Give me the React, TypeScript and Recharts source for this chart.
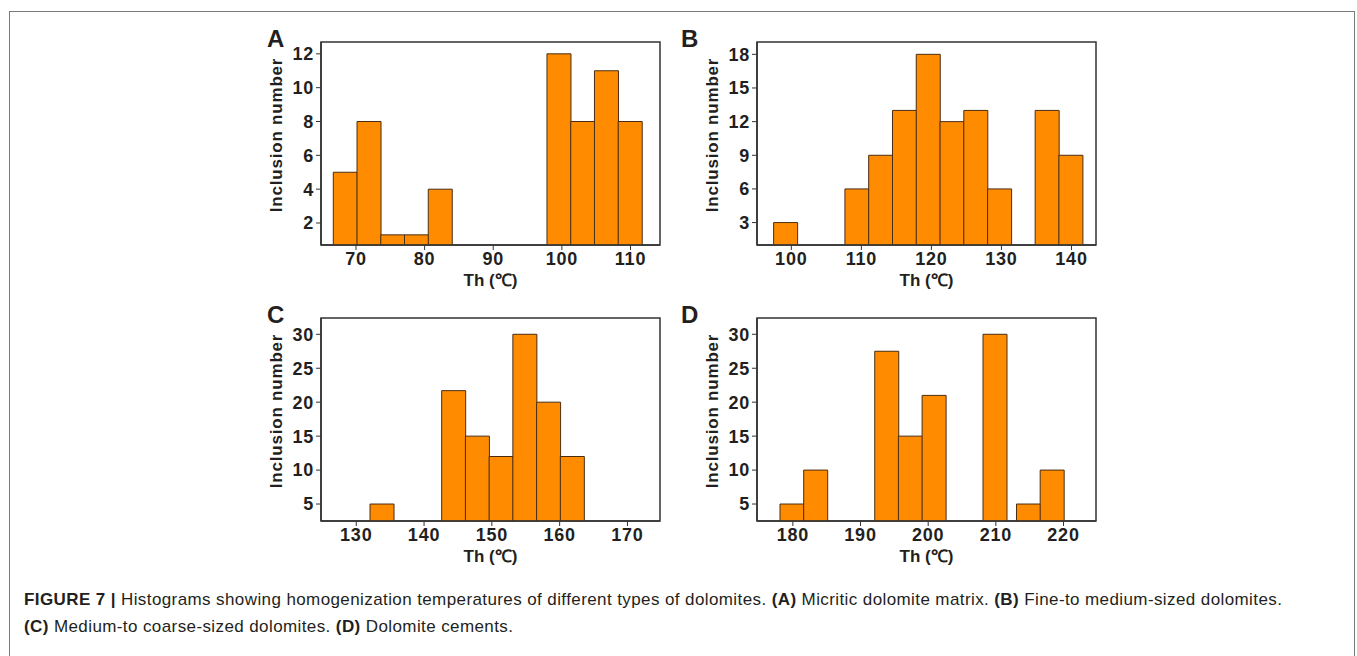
import React from 'react';
import { BarChart, Bar, XAxis, YAxis, ReferenceArea } from 'recharts';

const FONT = '"Liberation Sans", Arial, Helvetica, sans-serif';
const INK = '#231f20';
const ORANGE = '#ff8c00';

// bin centres (Th, °C) and counts
const binsA = [68.42, 71.88, 75.34, 78.8, 82.26, 99.56, 103.02, 106.48, 109.94];
const countsA = [5, 8, 1.3, 1.3, 4, 12, 8, 11, 8];

const binsB = [99.17, 109.35, 112.74, 116.14, 119.53, 122.93, 126.32, 129.72, 136.51, 139.9];
const countsB = [3, 6, 9, 13, 18, 12, 13, 6, 13, 9];

const binsC = [133.78, 144.35, 147.85, 151.35, 154.85, 158.35, 161.85];
const countsC = [5, 21.7, 15, 12, 30, 20, 12];

const binsD = [179.85, 183.35, 193.85, 197.35, 200.85, 209.85, 214.8, 218.3];
const countsD = [5, 10, 27.5, 15, 21, 30, 5, 10];

const xTicksA = [70, 80, 90, 100, 110];
const xTicksB = [100, 110, 120, 130, 140];
const xTicksC = [130, 140, 150, 160, 170];
const xTicksD = [180, 190, 200, 210, 220];

const yTicksA = [2, 4, 6, 8, 10, 12];
const yTicksB = [3, 6, 9, 12, 15, 18];
const yTicksC = [5, 10, 15, 20, 25, 30];
const yTicksD = [5, 10, 15, 20, 25, 30];

const toRows = (bins: number[], counts: number[]) => bins.map((x, i) => ({ x, n: counts[i] }));

interface PanelProps {
  letter: string;
  bins: number[];
  counts: number[];
  xDomain: [number, number];
  yDomain: [number, number];
  xTicks: number[];
  yTicks: number[];
  left: number;
  top: number;
}

const tickStyle = { fill: INK, fontSize: 18, fontWeight: 700, fontFamily: FONT, letterSpacing: 0.8 };

const renderYLabel = (props: any) => {
  const vb = props.viewBox;
  const cx = vb.x + vb.width - 45;
  const cy = vb.y + vb.height / 2 - 8.5;
  return (
    <text
      x={cx}
      y={cy}
      transform={`rotate(-90, ${cx}, ${cy})`}
      textAnchor="middle"
      dominantBaseline="central"
      fill={INK}
      fontSize={17}
      fontWeight={700}
      fontFamily={FONT}
      letterSpacing={0.8}
    >
      Inclusion number
    </text>
  );
};

const renderXLabel = (props: any) => {
  const vb = props.viewBox;
  return (
    <text
      x={vb.x + vb.width / 2}
      y={vb.y + 41}
      textAnchor="middle"
      fill={INK}
      fontSize={17}
      fontWeight={700}
      fontFamily={FONT}
    >
      Th (℃)
    </text>
  );
};

function Panel({ letter, bins, counts, xDomain, yDomain, xTicks, yTicks, left, top }: PanelProps) {
  const rows = toRows(bins, counts);
  return (
    <div style={{ position: 'absolute', left, top }}>
      <BarChart
        width={420}
        height={260}
        data={rows}
        margin={{ top: 12, right: 11, bottom: 0, left: 0 }}
        barCategoryGap={0}
        barGap={0}
      >
        <XAxis
          type="number"
          dataKey="x"
          domain={xDomain}
          allowDataOverflow
          ticks={xTicks}
          height={45}
          tick={tickStyle}
          tickSize={5}
          tickMargin={2}
          tickLine={{ stroke: '#333' }}
          axisLine={{ stroke: '#333', strokeWidth: 1.5 }}
          label={renderXLabel}
        />
        <YAxis
          type="number"
          domain={yDomain}
          allowDataOverflow
          ticks={yTicks}
          width={70}
          tick={tickStyle}
          tickSize={5}
          tickLine={{ stroke: '#333' }}
          axisLine={{ stroke: '#333', strokeWidth: 1.5 }}
          label={renderYLabel}
        />
        <Bar dataKey="n" fill={ORANGE} stroke="#4a2c12" strokeWidth={1} isAnimationActive={false} />
        <ReferenceArea
          x1={xDomain[0]}
          x2={xDomain[1]}
          y1={yDomain[0]}
          y2={yDomain[1]}
          fill="none"
          fillOpacity={0}
          stroke="#333"
          strokeWidth={1.5}
          ifOverflow="visible"
        />
      </BarChart>
      <div
        style={{
          position: 'absolute',
          left: letter === 'A' || letter === 'C' ? 16 : -6,
          top: -3,
          fontFamily: FONT,
          fontWeight: 700,
          fontSize: 24,
          lineHeight: '24px',
          color: INK,
        }}
      >
        {letter}
      </div>
    </div>
  );
}

export default function App() {
  return (
    <div style={{ position: 'absolute', left: 0, top: 0, width: 1357, height: 656, background: '#fff', overflow: 'hidden' }}>
      <div
        style={{
          position: 'absolute',
          left: 9,
          top: 11,
          width: 1344,
          height: 700,
          border: '1px solid #7a7a7a',
        }}
      />
      <Panel letter="A" bins={binsA} counts={countsA} xDomain={[64.9, 114.3]} yDomain={[0.7, 12.7]} xTicks={xTicksA} yTicks={yTicksA} left={251} top={30} />
      <Panel letter="B" bins={binsB} counts={countsB} xDomain={[95.1, 143.5]} yDomain={[1, 19.1]} xTicks={xTicksB} yTicks={yTicksB} left={687} top={30} />
      <Panel letter="C" bins={binsC} counts={countsC} xDomain={[124.8, 174.8]} yDomain={[2.5, 32.4]} xTicks={xTicksC} yTicks={yTicksC} left={251} top={306} />
      <Panel letter="D" bins={binsD} counts={countsD} xDomain={[174.7, 224.8]} yDomain={[2.5, 32.4]} xTicks={xTicksD} yTicks={yTicksD} left={687} top={306} />
      <div
        style={{
          position: 'absolute',
          left: 24,
          top: 586,
          fontFamily: FONT,
          fontSize: 17,
          letterSpacing: 0.4,
          lineHeight: '27px',
          color: INK,
          whiteSpace: 'nowrap',
        }}
      >
        <b>FIGURE 7 |</b> Histograms showing homogenization temperatures of different types of dolomites. <b>(A)</b> Micritic dolomite matrix. <b>(B)</b> Fine-to medium-sized dolomites.
        <br />
        <b>(C)</b> Medium-to coarse-sized dolomites. <b>(D)</b> Dolomite cements.
      </div>
    </div>
  );
}
